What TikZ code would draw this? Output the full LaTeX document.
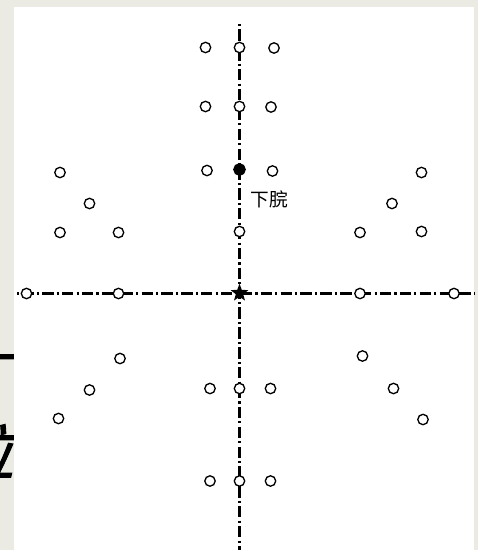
\documentclass[tikz,border=0pt]{standalone}
\usepackage{fontspec}
\newfontfamily\cjk{Noto Sans CJK SC}
\newfontfamily\cjkit[FakeSlant=0.25, FakeBold=1.5]{Noto Sans CJK SC}
\usetikzlibrary{shapes.geometric}
\definecolor{slidebg}{RGB}{236,235,227}

\begin{document}
\begin{tikzpicture}[x=0.75pt, y=-0.75pt,
  point/.style={circle, draw, line width=1pt, fill=white, inner sep=0pt, minimum size=7.8pt},
  axis/.style={line width=1.8pt, dash pattern=on 1.6pt off 2.4pt on 8.5pt off 2.4pt}]
  \useasboundingbox (0,0) rectangle (478,550);

  % slide background and the cut-off text behind the panel
  \fill[slidebg] (0,0) rectangle (478,550);
  \node[font=\cjkit\fontsize{40}{40}\selectfont, inner sep=0pt] (frag1) at (-12,366) {一};
  \node[font=\cjkit\fontsize{45}{45}\selectfont, inner sep=0pt] (frag2) at (-16,452) {位};
  \fill[white] (14,7) rectangle (474,550);

  % axes
  \coordinate (vtop) at (239.5,24);
  \coordinate (vbot) at (239.5,550);
  \coordinate (hleft) at (17,293.5);
  \coordinate (hright) at (474,293.5);
  \draw[axis] (vtop) -- (vbot);
  \draw[axis] (hleft) -- (hright);

  % open points
  \foreach \x/\y [count=\i] in {205.5/47.5, 239.5/47.5, 274/48,
      205.5/106.5, 239.5/106.5, 271/107,
      207/170.5, 272.5/171, 239.5/231.5,
      60/172.5, 89.5/203.5, 60/232.5, 118.5/232.5,
      421.5/172.5, 392/203.5, 360/232.5, 421.5/231.5,
      26.5/293.5, 118.5/293.5, 360/293.5, 454/293.5,
      120/358.5, 89.5/390, 58.5/418.5,
      362.5/356, 393.5/388.5, 423/419.5,
      210/388.5, 239.5/388.5, 270.5/388.5,
      210/481, 239.5/481, 270.5/481} {
    \node[point] (p\i) at (\x,\y) {};
  }

  % xiawan and navel
  \node[point, fill=black, minimum size=8.5pt] (xiawan) at (239.5,169.5) {};
  \node[font=\cjk\fontsize{14}{14}\selectfont, inner sep=0pt] (xiawanlab) at (269,199.5) {下脘};
  \node[star, star points=5, star point ratio=2.4, fill=black, inner sep=0pt, minimum size=14pt] (navel) at (239.5,293) {};
\end{tikzpicture}
\end{document}
